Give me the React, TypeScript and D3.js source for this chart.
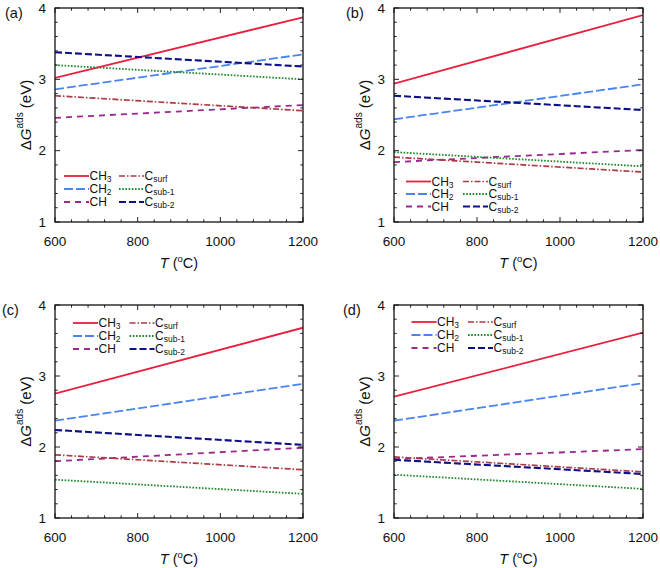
import React from "react";
import * as d3 from "d3";

const temps = [600, 1200];
const seriesKeys = ["CH3", "CH2", "CH", "Csurf", "Csub-1", "Csub-2"];
const panelLabels = ["(a)", "(b)", "(c)", "(d)"];
const xTicks = [600, 800, 1000, 1200];
const yTicks = [1, 2, 3, 4];

// values at 600 and 1200 °C for each series
const panelA = [
  [3.02, 3.87],
  [2.86, 3.35],
  [2.46, 2.64],
  [2.77, 2.56],
  [3.2, 3.0],
  [3.38, 3.18],
];
const panelB = [
  [2.94, 3.9],
  [2.44, 2.93],
  [1.84, 2.01],
  [1.91, 1.7],
  [1.98, 1.78],
  [2.77, 2.57],
];
const panelC = [
  [2.75, 3.68],
  [2.37, 2.89],
  [1.8, 1.99],
  [1.89, 1.68],
  [1.54, 1.34],
  [2.24, 2.03],
];
const panelD = [
  [2.71, 3.61],
  [2.37, 2.9],
  [1.83, 1.97],
  [1.86, 1.65],
  [1.61, 1.41],
  [1.82, 1.62],
];

const styles = [
  { color: "#e81f3d", dash: "", width: 1.8 },
  { color: "#4a84f0", dash: "9,3", width: 1.8 },
  { color: "#9a288e", dash: "6,5", width: 1.8 },
  { color: "#ad3a44", dash: "6,2,1.5,2", width: 1.7 },
  { color: "#1e8a28", dash: "1.6,1.6", width: 1.8 },
  { color: "#0e1088", dash: "7,3", width: 2.1 },
];

const layouts = [
  { x0: 55, x1: 303, y0: 8, y1: 222, lx: [64, 119], ly: [176, 189, 202], lab: [5, 13] },
  { x0: 394, x1: 643, y0: 8, y1: 222, lx: [406, 463], ly: [181.5, 194, 206.5], lab: [346, 13] },
  { x0: 55, x1: 303, y0: 305, y1: 518, lx: [73, 129.5], ly: [323, 336, 349], lab: [2, 310] },
  { x0: 394, x1: 643, y0: 305, y1: 518, lx: [411.5, 468], ly: [322, 335, 348], lab: [343, 310] },
];

const FONT = "'Liberation Sans', Arial, sans-serif";

function LegendLabel({ k, x, y }: { k: string; x: number; y: number }) {
  let base = k;
  let sub = "";
  if (k === "CH3") { base = "CH"; sub = "3"; }
  else if (k === "CH2") { base = "CH"; sub = "2"; }
  else if (k === "Csurf") { base = "C"; sub = "surf"; }
  else if (k === "Csub-1") { base = "C"; sub = "sub-1"; }
  else if (k === "Csub-2") { base = "C"; sub = "sub-2"; }
  return (
    <text x={x} y={y} fontSize={12} fontFamily={FONT} dominantBaseline="central" fill="#111">
      {base}
      {sub && (
        <tspan fontSize={8.5} dy={3}>
          {sub}
        </tspan>
      )}
    </text>
  );
}

function Panel({ data, idx }: { data: number[][]; idx: number }) {
  const L = layouts[idx];
  const x = d3.scaleLinear().domain([600, 1200]).range([L.x0, L.x1]);
  const y = d3.scaleLinear().domain([1, 4]).range([L.y1, L.y0]);
  const line = d3
    .line<[number, number]>()
    .x((d) => x(d[0]))
    .y((d) => y(d[1]));
  const xMinor = d3.range(600, 1200.1, 40);
  const yMinor = d3.range(1, 4.01, 0.2);
  const cy = (L.y0 + L.y1) / 2;
  const cx = (L.x0 + L.x1) / 2;
  return (
    <g>
      <defs>
        <clipPath id={`clip${idx}`}>
          <rect x={L.x0} y={L.y0} width={L.x1 - L.x0} height={L.y1 - L.y0} />
        </clipPath>
      </defs>
      <g clipPath={`url(#clip${idx})`}>
        {data.map((vals, i) => (
          <path
            key={i}
            d={line(temps.map((t, j) => [t, vals[j]] as [number, number])) || ""}
            fill="none"
            stroke={styles[i].color}
            strokeWidth={styles[i].width}
            strokeDasharray={styles[i].dash}
          />
        ))}
      </g>
      <g stroke="#222" strokeWidth={1}>
        {xMinor.map((t, i) => {
          const major = xTicks.includes(Math.round(t));
          const len = major ? 5 : 2.7;
          const px = x(t);
          return (
            <g key={"x" + i}>
              <line x1={px} x2={px} y1={L.y1} y2={L.y1 - len} />
              <line x1={px} x2={px} y1={L.y0} y2={L.y0 + len} />
            </g>
          );
        })}
        {yMinor.map((v, i) => {
          const major = Math.abs(v - Math.round(v)) < 1e-6;
          const len = major ? 5 : 2.7;
          const py = y(v);
          return (
            <g key={"y" + i}>
              <line x1={L.x0} x2={L.x0 + len} y1={py} y2={py} />
              <line x1={L.x1} x2={L.x1 - len} y1={py} y2={py} />
            </g>
          );
        })}
      </g>
      <rect x={L.x0} y={L.y0} width={L.x1 - L.x0} height={L.y1 - L.y0} fill="none" stroke="#111" strokeWidth={1.3} />
      {xTicks.map((t) => (
        <text key={t} x={x(t)} y={L.y1 + 24} fontSize={13.5} fontFamily={FONT} textAnchor="middle" fill="#111">
          {t}
        </text>
      ))}
      {yTicks.map((v) => (
        <text key={v} x={L.x0 - 9} y={y(v)} fontSize={13.5} fontFamily={FONT} textAnchor="end" dominantBaseline="central" fill="#111">
          {v}
        </text>
      ))}
      <text x={cx} y={L.y1 + 46} fontSize={14.5} fontFamily={FONT} textAnchor="middle" fill="#111">
        <tspan fontStyle="italic">T</tspan> (
        <tspan fontSize={9.5} dy={-6}>o</tspan>
        <tspan dy={6}>C)</tspan>
      </text>
      <text
        transform={`translate(${L.x0 - 30},${cy}) rotate(-90)`}
        fontSize={15}
        fontFamily={FONT}
        textAnchor="middle"
        dominantBaseline="central"
        fill="#111"
      >
        Δ<tspan fontStyle="italic">G</tspan>
        <tspan fontSize={10} dy={-6}>ads</tspan>
        <tspan dy={6}> (eV)</tspan>
      </text>
      <text x={L.lab[0]} y={L.lab[1]} fontSize={14.5} fontFamily={FONT} fill="#111" dominantBaseline="central">
        {panelLabels[idx]}
      </text>
      {seriesKeys.map((k, i) => {
        const col = i < 3 ? 0 : 1;
        const row = i % 3;
        const lx = L.lx[col];
        const ly = L.ly[row];
        return (
          <g key={k}>
            <line x1={lx} x2={lx + 25} y1={ly} y2={ly} stroke={styles[i].color} strokeWidth={styles[i].width} strokeDasharray={styles[i].dash} />
            <LegendLabel k={k} x={lx + 25.5} y={ly} />
          </g>
        );
      })}
    </g>
  );
}

export default function App() {
  const panels = [panelA, panelB, panelC, panelD];
  return (
    <svg width={660} height={568} style={{ position: "absolute", left: 0, top: 0, background: "#fff" }}>
      <rect width={660} height={568} fill="#fff" />
      {panels.map((p, i) => (
        <Panel key={i} data={p} idx={i} />
      ))}
    </svg>
  );
}
